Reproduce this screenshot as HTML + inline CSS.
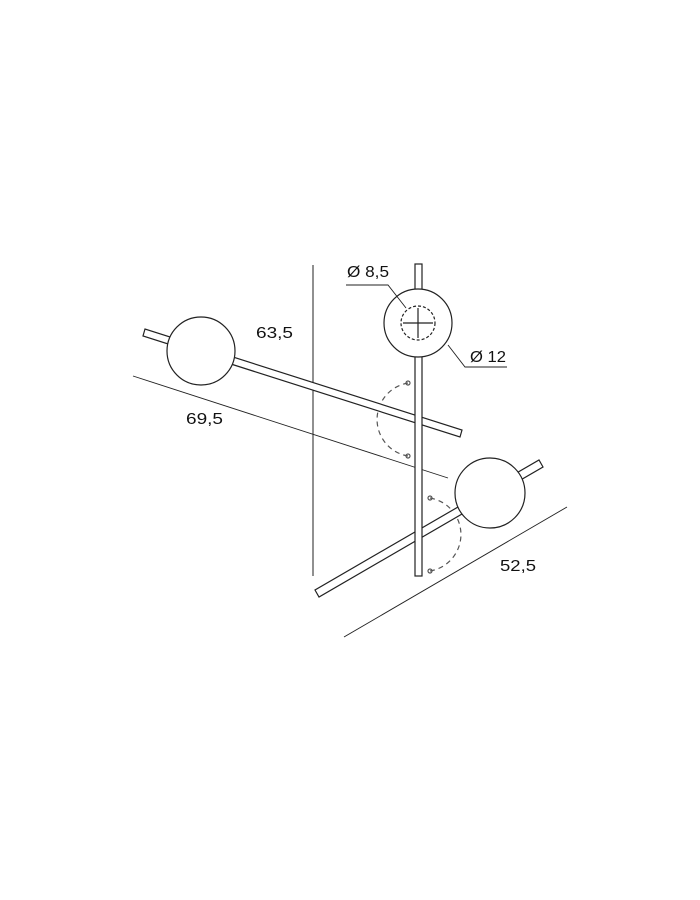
<!DOCTYPE html>
<html><head><style>body{margin:0;background:#fff}svg{display:block}text{font-family:"Liberation Sans",sans-serif;font-size:16px;fill:#111}</style></head><body>
<svg width="700" height="900" viewBox="0 0 700 900">
<g fill="none" stroke="#222" stroke-width="1.2">
<line x1="313" y1="265" x2="313" y2="576" stroke-width="1"/>
<line x1="133" y1="376" x2="448" y2="478" stroke-width="0.9"/>
<line x1="344" y1="637" x2="567" y2="507" stroke-width="0.9"/>
<path d="M408 383 A37 37 0 0 0 408 456" stroke="#555" stroke-dasharray="5,4"/>
<path d="M430 498 A37 37 0 0 1 430 571" stroke="#555" stroke-dasharray="5,4"/>
<circle cx="408" cy="383" r="2" stroke="#555"/><circle cx="408" cy="456" r="2" stroke="#555"/>
<circle cx="430" cy="498" r="2" stroke="#555"/><circle cx="430" cy="571" r="2" stroke="#555"/>
<polygon points="145,329 143,336 460,437 462,430" fill="#fff"/>
<circle cx="201" cy="351" r="34" fill="#fff"/>
<polygon points="315,590 319,597 543,467 539,460" fill="#fff"/>
<rect x="415" y="264" width="7" height="312" fill="#fff"/>
<circle cx="490" cy="493" r="35" fill="#fff"/>
<circle cx="418" cy="323" r="34" fill="#fff"/>
<circle cx="418" cy="323" r="17" stroke-dasharray="3,2"/>
<line x1="403" y1="323" x2="433" y2="323"/><line x1="418" y1="308" x2="418" y2="338"/>
<polyline points="346,285 388,285 406,308" stroke-width="0.9"/>
<polyline points="448,345 465,367 507,367" stroke-width="0.9"/>
</g>
<text x="347" y="277" textLength="42" lengthAdjust="spacingAndGlyphs">Ø 8,5</text>
<text x="470" y="362" textLength="36" lengthAdjust="spacingAndGlyphs">Ø 12</text>
<text x="256" y="338" textLength="37" lengthAdjust="spacingAndGlyphs">63,5</text>
<text x="186" y="424" textLength="37" lengthAdjust="spacingAndGlyphs">69,5</text>
<text x="500" y="571" textLength="36" lengthAdjust="spacingAndGlyphs">52,5</text>
</svg>
</body></html>
